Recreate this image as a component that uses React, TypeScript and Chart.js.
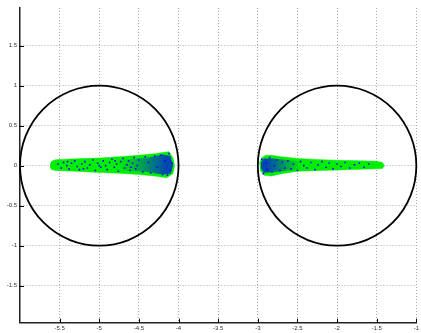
import React, { useEffect, useRef } from "react";
import { Chart, registerables } from "chart.js";
Chart.register(...registerables);

// Axis ticks
const xTicks = [-5.5, -5, -4.5, -4, -3.5, -3, -2.5, -2, -1.5, -1];
const yTicks = [-1.5, -1, -0.5, 0, 0.5, 1, 1.5];

// Circles (centre x, centre y, radius)
const circleX = [-5, -2];
const circleY = [0, 0];
const circleR = [1, 1];

// Green cloud outlines
const leftCloud = [
  [-5.62, 0.01], [-5.6, 0.055], [-5.55, 0.075], [-5.3, 0.085], [-5.0, 0.095], [-4.75, 0.11],
  [-4.5, 0.13], [-4.3, 0.15], [-4.2, 0.165], [-4.12, 0.175], [-4.07, 0.1], [-4.05, 0.0],
  [-4.07, -0.1], [-4.15, -0.15], [-4.3, -0.13], [-4.5, -0.11], [-4.75, -0.095], [-5.0, -0.085],
  [-5.3, -0.07], [-5.55, -0.062], [-5.6, -0.05], [-5.62, -0.02],
];
const rightCloud = [
  [-2.98, 0.03], [-2.95, 0.1], [-2.9, 0.13], [-2.83, 0.13], [-2.7, 0.11], [-2.5, 0.09],
  [-2.2, 0.075], [-2.0, 0.068], [-1.7, 0.06], [-1.5, 0.055], [-1.43, 0.04], [-1.4, 0.0],
  [-1.43, -0.035], [-1.5, -0.04], [-1.7, -0.045], [-2.0, -0.055], [-2.2, -0.06], [-2.5, -0.07],
  [-2.7, -0.1], [-2.83, -0.13], [-2.92, -0.12], [-2.97, -0.06],
];

// Dense blue zones
const leftDense = [
  [-4.75, 0.07], [-4.4, 0.1], [-4.2, 0.14], [-4.1, 0.12], [-4.07, 0.0], [-4.1, -0.1],
  [-4.2, -0.11], [-4.4, -0.08], [-4.75, -0.06],
];
const rightDense = [
  [-2.96, 0.05], [-2.92, 0.09], [-2.8, 0.09], [-2.45, 0.05], [-2.45, -0.045], [-2.8, -0.08],
  [-2.92, -0.09], [-2.96, -0.04],
];

// Blue specks
const blueSpecks = [
  [-5.52, 0.02], [-5.48, -0.03], [-5.45, 0.04], [-5.41, 0.0], [-5.38, -0.04], [-5.35, 0.03],
  [-5.31, 0.06], [-5.28, -0.01], [-5.25, -0.05], [-5.22, 0.02], [-5.18, 0.05], [-5.15, -0.03],
  [-5.12, 0.01], [-5.08, 0.07], [-5.05, -0.06], [-5.02, 0.03], [-4.98, -0.02], [-4.95, 0.06],
  [-4.92, 0.0], [-4.9, -0.05], [-4.87, 0.04], [-4.84, 0.08], [-4.81, -0.02], [-4.78, 0.02],
  [-4.76, -0.07], [-4.73, 0.05], [-4.7, 0.09], [-4.68, -0.03], [-4.65, 0.01], [-4.63, 0.06],
  [-4.61, -0.06], [-4.58, 0.03], [-4.56, 0.1], [-4.54, -0.04], [-4.52, 0.0], [-4.5, 0.07],
  [-4.45, -0.08], [-4.42, 0.11], [-4.38, 0.04], [-4.35, -0.09], [-4.3, 0.12], [-4.27, -0.02],
  [-4.22, 0.13], [-4.2, -0.11], [-4.17, 0.06], [-4.14, -0.12], [-4.12, 0.15], [-4.1, -0.06],
  [-4.08, 0.03], [-5.4, 0.05], [-5.2, -0.04], [-5.0, 0.0], [-4.8, 0.06], [-4.6, -0.02],
  [-2.62, 0.06], [-2.58, -0.04], [-2.55, 0.02], [-2.5, -0.06], [-2.46, 0.05], [-2.42, 0.0],
  [-2.38, -0.03], [-2.33, 0.04], [-2.28, -0.05], [-2.24, 0.01], [-2.19, 0.05], [-2.14, -0.02],
  [-2.1, 0.03], [-2.05, -0.04], [-2.0, 0.02], [-1.95, -0.01], [-1.9, 0.04], [-1.84, -0.03],
  [-1.78, 0.01], [-1.72, 0.03], [-1.66, -0.02], [-1.6, 0.02],
  [-2.95, 0.08], [-2.93, -0.1], [-2.9, 0.03], [-2.88, -0.05], [-2.85, 0.1], [-2.82, -0.08],
  [-2.79, 0.0], [-2.76, 0.07], [-2.72, -0.06], [-2.69, 0.04], [-2.66, -0.03],
];

const toPts = (a: number[][]) => a.map(([x, y]) => ({ x, y }));

function gradFill(from: number, to: number) {
  return (ctx: any) => {
    const chart = ctx.chart;
    if (!chart.chartArea) return "rgba(0,0,255,0.5)";
    const xs = chart.scales.x;
    const g = chart.ctx.createLinearGradient(xs.getPixelForValue(from), 0, xs.getPixelForValue(to), 0);
    g.addColorStop(0, "rgba(0,0,255,0)");
    g.addColorStop(1, "rgba(0,0,255,0.7)");
    return g;
  };
}

const circlesPlugin = {
  id: "circles",
  afterDatasetsDraw(chart: any) {
    const { ctx, scales } = chart;
    const xs = scales.x, ys = scales.y;
    ctx.save();
    ctx.strokeStyle = "#000";
    ctx.lineWidth = 1.8;
    for (let i = 0; i < circleX.length; i++) {
      const cx = xs.getPixelForValue(circleX[i]);
      const cy = ys.getPixelForValue(circleY[i]);
      const rx = Math.abs(xs.getPixelForValue(circleX[i] + circleR[i]) - cx);
      const ry = Math.abs(ys.getPixelForValue(circleY[i] + circleR[i]) - cy);
      ctx.beginPath();
      ctx.ellipse(cx, cy, rx, ry, 0, 0, Math.PI * 2);
      ctx.stroke();
    }
    ctx.restore();
  },
};

const innerTicksPlugin = {
  id: "innerTicks",
  afterDraw(chart: any) {
    const { ctx, scales, chartArea } = chart;
    ctx.save();
    ctx.strokeStyle = "#000";
    ctx.lineWidth = 1;
    ctx.beginPath();
    for (const v of xTicks) {
      const px = Math.round(scales.x.getPixelForValue(v)) + 0.5;
      ctx.moveTo(px, chartArea.bottom);
      ctx.lineTo(px, chartArea.bottom - 4);
    }
    for (const v of yTicks) {
      const py = Math.round(scales.y.getPixelForValue(v)) + 0.5;
      ctx.moveTo(chartArea.left, py);
      ctx.lineTo(chartArea.left + 4, py);
    }
    ctx.stroke();
    ctx.restore();
  },
};

export default function App() {
  const ref = useRef<HTMLCanvasElement>(null);
  useEffect(() => {
    const chart = new Chart(ref.current!, {
      type: "scatter",
      data: {
        datasets: [
          {
            data: toPts(blueSpecks),
            backgroundColor: "#0000ff",
            borderWidth: 0,
            pointStyle: "rect",
            pointRadius: 1.1,
            order: 1,
          } as any,
          {
            data: toPts(leftDense),
            showLine: true,
            fill: "shape",
            backgroundColor: gradFill(-4.75, -4.15),
            borderWidth: 0,
            pointRadius: 0,
            order: 2,
          },
          {
            data: toPts(rightDense),
            showLine: true,
            fill: "shape",
            backgroundColor: gradFill(-2.45, -2.88),
            borderWidth: 0,
            pointRadius: 0,
            order: 2,
          },
          {
            data: toPts(leftCloud),
            showLine: true,
            fill: "shape",
            backgroundColor: "#00ee00",
            borderColor: "#00ee00",
            borderWidth: 0.5,
            pointRadius: 0,
            order: 3,
          },
          {
            data: toPts(rightCloud),
            showLine: true,
            fill: "shape",
            backgroundColor: "#00ee00",
            borderColor: "#00ee00",
            borderWidth: 0.5,
            pointRadius: 0,
            order: 3,
          },
        ],
      },
      options: {
        animation: false,
        responsive: false,
        maintainAspectRatio: false,
        layout: { padding: { top: 8, right: 1, left: 0, bottom: 0 } },
        plugins: { legend: { display: false }, tooltip: { enabled: false } },
        scales: {
          x: {
            type: "linear",
            min: -6,
            max: -1,
            afterBuildTicks: (s: any) => { s.ticks = xTicks.map((v) => ({ value: v })); },
            afterFit: (s: any) => { s.height = 10.3; },
            ticks: {
              padding: 2,
              font: { size: 6, family: "Liberation Sans, Arial, sans-serif" },
              color: "#333",
              callback: (v: any) => String(v),
              maxRotation: 0,
              autoSkip: false,
            },
            grid: { color: "#a8a8a8", lineWidth: 1, drawTicks: false } as any,
            border: { display: true, color: "#222", width: 1.5, dash: [1, 2] } as any,
          },
          y: {
            type: "linear",
            min: -1.9625,
            max: 1.97,
            afterBuildTicks: (s: any) => { s.ticks = yTicks.map((v) => ({ value: v })); },
            afterFit: (s: any) => { s.width = 20; },
            ticks: {
              padding: 3,
              font: { size: 6, family: "Liberation Sans, Arial, sans-serif" },
              color: "#333",
              callback: (v: any) => String(v),
              autoSkip: false,
            },
            grid: { color: "#a8a8a8", lineWidth: 1, drawTicks: false } as any,
            border: { display: true, color: "#222", width: 1.5, dash: [1, 2] } as any,
          },
        },
      },
      plugins: [circlesPlugin, innerTicksPlugin],
    } as any);
    return () => chart.destroy();
  }, []);
  return (
    <div style={{ position: "fixed", left: 0, top: 0, width: 421, height: 333, background: "#fff" }}>
      <canvas ref={ref} width={421} height={333} style={{ width: 421, height: 333, display: "block" }} />
    </div>
  );
}
